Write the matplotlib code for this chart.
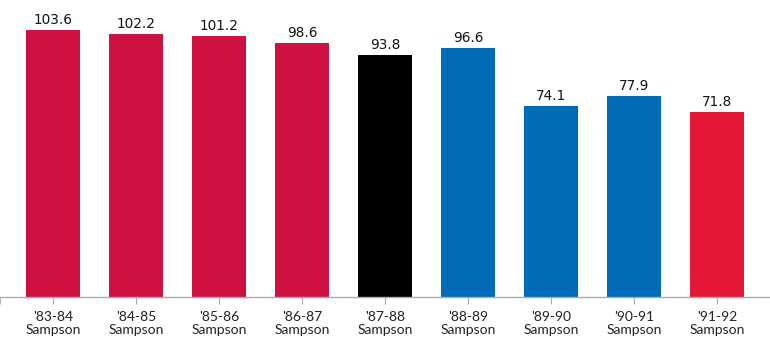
import matplotlib
matplotlib.use("Agg")
import matplotlib.pyplot as plt

seasons = ["'83-84", "'84-85", "'85-86", "'86-87", "'87-88", "'88-89", "'89-90", "'90-91", "'91-92"]
coach = ["Sampson"] * 9
values = [103.6, 102.2, 101.2, 98.6, 93.8, 96.6, 74.1, 77.9, 71.8]
colors = ["#CE1141", "#CE1141", "#CE1141", "#CE1141", "#000000", "#006BB6", "#006BB6", "#006BB6", "#E31837"]

fig = plt.figure(figsize=(7.7, 3.53), dpi=100)
ax = fig.add_axes([0, 56 / 353, 1, 297 / 353])

x = list(range(len(values)))
ax.bar(x, values, width=0.64, color=colors, zorder=2)
for xi, v in zip(x, values):
    ax.annotate(f"{v}", (xi, v), xytext=(0, 2), textcoords="offset points",
                ha="center", va="bottom", fontsize=9.8, color="#111111",
                family="DejaVu Sans")

ax.set_xlim(-0.639, 8.639)
ax.set_ylim(0, 115.2)
ax.set_yticks([])
for s in ["top", "right", "left"]:
    ax.spines[s].set_visible(False)
ax.spines["bottom"].set_color("#aaaaaa")
ax.spines["bottom"].set_linewidth(1)
ax.set_xticks(x)
ax.set_xticklabels([f"{s}\n{c}" for s, c in zip(seasons, coach)],
                   fontsize=10, color="#222222", family="Lato", linespacing=1.15)
ax.set_xticks([-0.639, 8.639], minor=True)
ax.tick_params(axis="x", which="both", length=5, color="#aaaaaa", pad=5)

fig.savefig("out.png", dpi=100)
